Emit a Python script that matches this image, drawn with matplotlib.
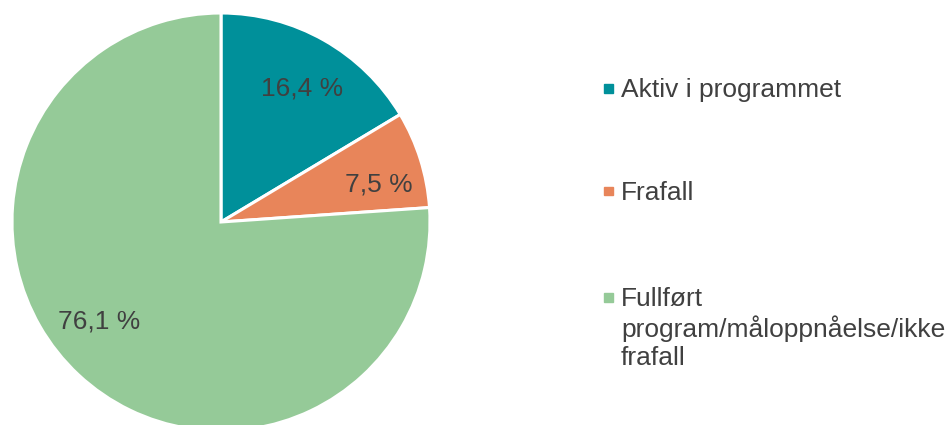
import matplotlib.pyplot as plt
from matplotlib.patches import Rectangle

plt.rcParams['font.family'] = ['Liberation Sans', 'DejaVu Sans']

categories = ['Aktiv i programmet', 'Frafall', 'Fullført\nprogram/måloppnåelse/ikke\nfrafall']
values = [16.4, 7.5, 76.1]
colors = ['#00909A', '#E8855A', '#95CA98']
text_color = '#404040'

W, H = 949, 425
fig = plt.figure(figsize=(W / 100, H / 100), dpi=100)

# pie axes: centre (221, 222) px, radius ~209 px
cx, cy, r = 221, 222, 209
ax = fig.add_axes([(cx - r) / W, (H - cy - r) / H, 2 * r / W, 2 * r / H])
wedges, texts, autotexts = ax.pie(
    values, colors=colors, startangle=90, counterclock=False,
    autopct=lambda p: f'{p:.1f} %'.replace('.', ','), pctdistance=0.76,
    wedgeprops=dict(edgecolor='white', linewidth=2.2),
    textprops=dict(color=text_color, fontsize=19))
ax.set_xlim(-1, 1)
ax.set_ylim(-1, 1)
ax.set_aspect('equal')

# label spots as in the original (fraction of radius)
label_pos = [(0.39, 0.64), (0.755, 0.18), (-0.585, -0.475)]
for t, pos in zip(autotexts, label_pos):
    t.set_position(pos)

# legend drawn by hand so the spacing matches
row_y = [88, 191, 297]
for y, lab, col in zip(row_y, categories, colors):
    fig.patches.append(Rectangle((604 / W, (H - y - 4.5) / H), 9 / W, 9 / H,
                                 transform=fig.transFigure, color=col))
    fig.text(621 / W, (H - y + 10) / H, lab, fontsize=19, color=text_color,
             va='top', ha='left', linespacing=1.21,
             transform=fig.transFigure)

fig.savefig('out.png', dpi=100)
